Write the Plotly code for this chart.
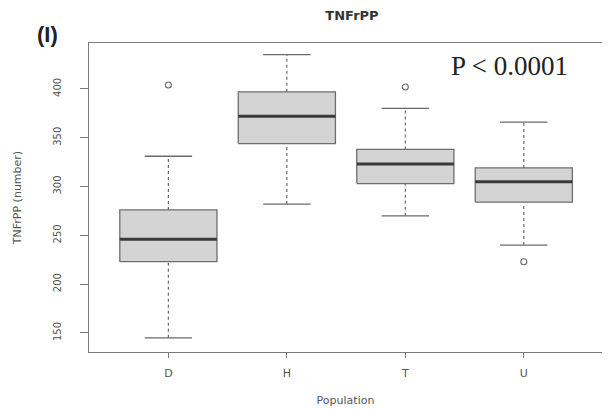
import plotly.graph_objects as go

categories = ["D", "H", "T", "U"]
lower_whisker = [145, 282, 270, 240]
q1 = [223, 344, 303, 284]
median = [246, 372, 323, 305]
q3 = [276, 397, 338, 319]
upper_whisker = [331, 435, 380, 366]
outlier_cat = ["D", "T", "U"]
outlier_val = [404, 402, 223]
y_ticks = [150, 200, 250, 300, 350, 400]

xpos = {c: i + 1 for i, c in enumerate(categories)}
xs = [xpos[c] for c in categories]
BOXW = 0.82
CAPW = 0.4

fig = go.Figure()
axis_col = "#7a7a7a"
txt_col = "#555555"
sans = "DejaVu Sans, Liberation Sans, Arial"
# whiskers (dotted)
for x, lo, a, b, hi in zip(xs, lower_whisker, q1, q3, upper_whisker):
    fig.add_trace(go.Scatter(x=[x, x, None, x, x], y=[lo, a, None, b, hi], mode="lines",
                             line=dict(color="#6a6a6a", width=1.2, dash="dot"),
                             showlegend=False, hoverinfo="skip"))
    fig.add_trace(go.Scatter(x=[x - CAPW / 2, x + CAPW / 2, None, x - CAPW / 2, x + CAPW / 2],
                             y=[lo, lo, None, hi, hi], mode="lines",
                             line=dict(color="#6a6a6a", width=1.3),
                             showlegend=False, hoverinfo="skip"))
# boxes
for x, a, m, b in zip(xs, q1, median, q3):
    fig.add_trace(go.Scatter(x=[x - BOXW / 2, x + BOXW / 2, x + BOXW / 2, x - BOXW / 2, x - BOXW / 2],
                             y=[a, a, b, b, a], mode="lines", fill="toself",
                             fillcolor="#d4d4d4", line=dict(color="#6e6e6e", width=1.3),
                             showlegend=False, hoverinfo="skip"))
    fig.add_trace(go.Scatter(x=[x - BOXW / 2, x + BOXW / 2], y=[m, m], mode="lines",
                             line=dict(color="#3a3a3a", width=3),
                             showlegend=False, hoverinfo="skip"))
# outliers
fig.add_trace(go.Scatter(x=[xpos[c] for c in outlier_cat], y=outlier_val, mode="markers",
                         marker=dict(symbol="circle-open", size=6, color="#6a6a6a", line=dict(width=1.1)),
                         showlegend=False, hoverinfo="skip"))

fig.update_layout(
    width=602, height=401,
    margin=dict(l=81, r=8, t=35, b=57, autoexpand=False),
    paper_bgcolor="white", plot_bgcolor="white",
    font=dict(family=sans, color=txt_col, size=10),
    title=dict(text="<b>TNFrPP</b>", x=0.5714, xanchor="center", y=0.9825, yanchor="middle",
               font=dict(size=13, color="#333333", family=sans)),
    showlegend=False,
)
fig.update_xaxes(range=[0.33, 4.66], tickvals=xs, ticktext=categories, automargin=False,
                 showline=True, linecolor=axis_col, linewidth=1.3, mirror=True,
                 ticks="outside", ticklen=5, tickcolor=axis_col, showgrid=False, zeroline=False,
                 tickfont=dict(size=11, color=txt_col), ticklabelstandoff=6,
                 title=dict(text="Population", font=dict(size=11, color=txt_col), standoff=16))
fig.update_yaxes(range=[130.5, 447], tickvals=y_ticks, ticktext=[str(v) for v in y_ticks],
                 tickangle=-90, automargin=False,
                 showline=True, linecolor=axis_col, linewidth=1.3, mirror=True,
                 ticks="outside", ticklen=8, tickcolor=axis_col, showgrid=False, zeroline=False,
                 tickfont=dict(size=10, color=txt_col), ticklabelstandoff=15,
                 title=dict(text="TNFrPP (number)", font=dict(size=11, color=txt_col), standoff=27))

fig.add_annotation(text="<b>(I)</b>", xref="paper", yref="paper", x=-0.081, y=1.026,
                   xanchor="center", yanchor="middle", showarrow=False,
                   font=dict(size=22, color="#222222", family="Liberation Sans, Arial"))
fig.add_annotation(text="P < 0.0001", xref="paper", yref="paper", x=0.819, y=0.9256,
                   xanchor="center", yanchor="middle", showarrow=False,
                   font=dict(size=27, color="#222222", family="Liberation Serif, Times New Roman"))

fig.write_html("out.html")
